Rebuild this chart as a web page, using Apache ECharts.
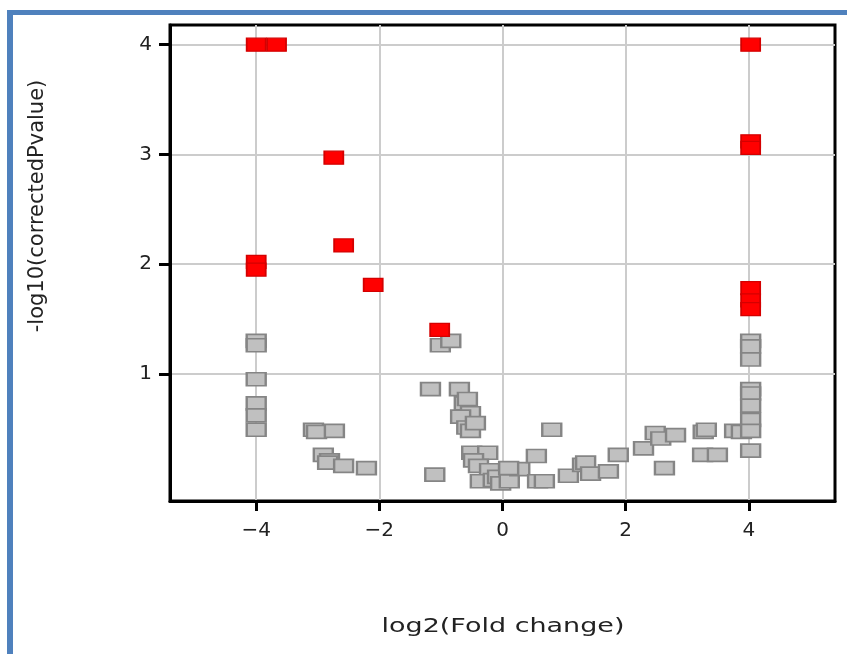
<!DOCTYPE html>
<html>
<head>
<meta charset="utf-8">
<script src="https://cdn.jsdelivr.net/npm/echarts@6/dist/echarts.min.js"></script>
<style>
  html, body { margin: 0; padding: 0; background: #ffffff; }
  #chart { width: 847px; height: 654px; }
</style>
</head>
<body>
<div id="chart"></div>
<script>
// Volcano plot: log2 fold change vs -log10 corrected p-value
const xTicks = [-4, -2, 0, 2, 4];
const yTicks = [1, 2, 3, 4];

// significant features (drawn red)
const sigX = [-4.0, -3.67, -2.74, -2.58, -4.0, -4.0, -2.10, -1.02, 4.03, 4.03, 4.03, 4.03, 4.03, 4.03];
const sigY = [4.0, 4.0, 2.97, 2.17, 2.02, 1.95, 1.81, 1.40, 4.0, 3.12, 3.06, 1.78, 1.67, 1.59];

// non-significant features (drawn grey)
const nsX = [
  -4.0, -4.0, -4.0, -4.0, -4.0, -4.0,
  -3.07, -3.02, -2.73, -2.91, -2.81, -2.84, -2.58, -2.21,
  -1.01, -0.84, -1.17, -0.70, -0.62, -0.57, -0.52, -0.68, -0.58, -0.52, -0.44,
  -0.50, -0.24, -0.47, -0.39, -0.21, -0.36, -0.15, -0.08, -0.03, 0.11, 0.28, 0.10,
  0.55, 0.57, 0.68, 0.80, -1.10, 1.07, 1.30, 1.35, 1.43, 1.72, 1.88, 2.29, 2.48,
  2.57, 2.81, 2.63, 3.26, 3.31, 3.25, 3.49, 3.77, 3.88,
  4.03, 4.03, 4.03, 4.03, 4.03, 4.03, 4.03, 4.03, 4.03
];
const nsY = [
  1.30, 1.26, 0.95, 0.73, 0.62, 0.49,
  0.49, 0.47, 0.48, 0.26, 0.21, 0.19, 0.16, 0.14,
  1.26, 1.30, 0.86, 0.86, 0.73, 0.77, 0.64, 0.61, 0.51, 0.48, 0.55,
  0.28, 0.28, 0.21, 0.16, 0.12, 0.02, 0.03, 0.06, 0.00, 0.02, 0.13, 0.14,
  0.25, 0.02, 0.02, 0.49, 0.08, 0.07, 0.17, 0.19, 0.09, 0.11, 0.26, 0.32, 0.46,
  0.41, 0.44, 0.14, 0.47, 0.49, 0.26, 0.26, 0.48, 0.47,
  1.30, 1.25, 1.13, 0.86, 0.82, 0.71, 0.58, 0.48, 0.30
];

const xLabel = 'log2(Fold change)';
const yLabel = '-log10(correctedPvalue)';

const pairs = (xs, ys) => xs.map((x, i) => [x, ys[i]]);

const chart = echarts.init(document.getElementById('chart'), null, { renderer: 'canvas' });

const tickFont = { fontFamily: 'DejaVu Sans', fontSize: 20, color: '#222222' };

chart.setOption({
  animation: false,
  backgroundColor: '#ffffff',
  grid: {
    left: 170, right: 12, top: 25, bottom: 153,
    show: true, borderColor: '#000000', borderWidth: 3, backgroundColor: 'transparent'
  },
  xAxis: {
    type: 'value', min: -5.4, max: 5.4,
    axisLine: { show: true, onZero: false, lineStyle: { color: '#000000', width: 3 } },
    axisTick: { show: true, length: 10, lineStyle: { color: '#000000', width: 3 }, customValues: xTicks },
    axisLabel: Object.assign({ margin: 20, customValues: xTicks,
      formatter: v => String(v).replace('-', '\u2212') }, tickFont),
    splitLine: { show: true, lineStyle: { color: '#cccccc', width: 2 } }
  },
  yAxis: {
    type: 'value', min: -0.16, max: 4.18,
    axisLine: { show: true, onZero: false, lineStyle: { color: '#000000', width: 3 } },
    axisTick: { show: true, length: 11, lineStyle: { color: '#000000', width: 3 }, customValues: yTicks },
    axisLabel: Object.assign({ margin: 18, customValues: yTicks }, tickFont),
    splitLine: { show: true, lineStyle: { color: '#cccccc', width: 2 } }
  },
  graphic: [
    // window frame
    { type: 'rect', shape: { x: 7, y: 10, width: 6, height: 650 }, style: { fill: '#4f81bd' }, silent: true },
    { type: 'rect', shape: { x: 7, y: 10, width: 845, height: 5 }, style: { fill: '#4f81bd' }, silent: true },
    {
      type: 'text', x: 38, y: 206, rotation: Math.PI / 2,
      style: { text: yLabel, fontFamily: 'DejaVu Sans', fontSize: 21, fill: '#222222',
               textAlign: 'center', textVerticalAlign: 'middle' }
    },
    {
      type: 'text', x: 503, y: 627, scaleX: 1.42,
      style: { text: xLabel, fontFamily: 'DejaVu Sans', fontSize: 19, fill: '#222222',
               textAlign: 'center', textVerticalAlign: 'middle' }
    }
  ],
  series: [
    {
      type: 'scatter', symbol: 'rect', symbolSize: [19, 13],
      data: pairs(nsX, nsY),
      itemStyle: { color: '#c0c0c0', borderColor: '#858585', borderWidth: 2, opacity: 1 }
    },
    {
      type: 'scatter', symbol: 'rect', symbolSize: [19, 13],
      data: pairs(sigX, sigY),
      itemStyle: { color: '#ff0000', borderColor: '#d40000', borderWidth: 1.5, opacity: 1 }
    }
  ]
});
</script>
</body>
</html>
